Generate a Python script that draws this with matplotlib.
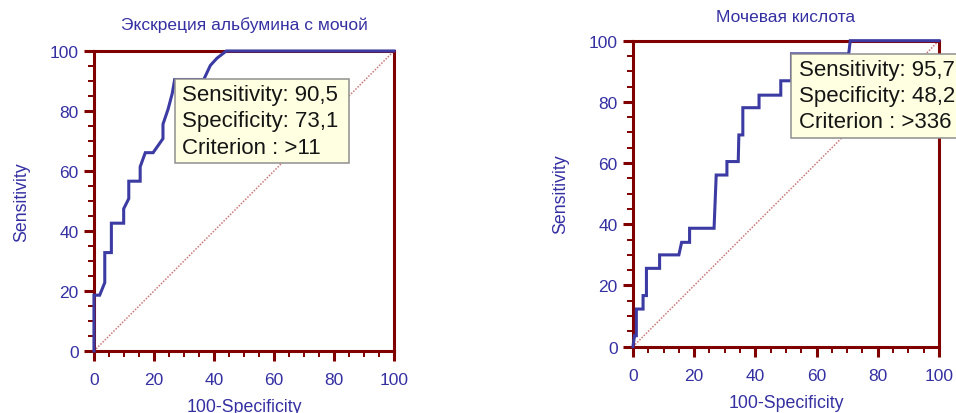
import matplotlib
matplotlib.use("Agg")
import matplotlib.pyplot as plt
from matplotlib.patches import Rectangle
from matplotlib.transforms import ScaledTranslation
from matplotlib.ticker import MultipleLocator

plt.rcParams['font.family'] = ['Liberation Sans', 'DejaVu Sans']

# ROC curve: urinary albumin excretion
fpr_alb = [0, 0, 1.9, 3.6, 3.6, 5.8, 5.8, 9.9, 9.9, 11.6, 11.6, 15.4, 15.4, 17.1,
           19.7, 23.0, 23.0, 24.7, 26.1, 26.9, 36.6, 38.8, 41.0, 44.1, 100]
sens_alb = [0, 18.6, 18.6, 22.8, 32.8, 32.8, 42.6, 42.6, 47.4, 50.8, 56.6, 56.6,
            61.4, 66.1, 66.1, 70.8, 75.6, 80.6, 85.9, 90.5, 90.5, 95.2, 97.6, 100, 100]

# ROC curve: uric acid
fpr_ua = [0, 0.5, 1.1, 1.1, 3.3, 3.3, 4.4, 4.4, 8.7, 8.7, 15.0, 15.9, 18.5, 18.5,
          26.5, 27.2, 30.7, 30.7, 34.4, 34.6, 35.9, 35.9, 41.2, 41.2, 48.3, 48.3,
          51.8, 51.8, 70.5, 71.0, 100]
sens_ua = [0, 3.6, 3.6, 12.3, 12.3, 16.7, 16.7, 25.6, 25.6, 30.0, 30.0, 34.1, 34.1,
           38.7, 38.7, 56.1, 56.1, 60.5, 60.5, 69.2, 69.2, 78.1, 78.1, 82.2, 82.2,
           86.9, 86.9, 95.7, 95.7, 100, 100]

titles = ['Экскреция альбумина с мочой', 'Мочевая кислота']
# optimal cut-off: (sensitivity, specificity, criterion)
cutoffs = [(90.5, 73.1, '>11'), (95.7, 48.2, '>336')]

axis_red = '#800000'
curve_blue = '#3b3ba3'
text_blue = '#3530a2'

fig = plt.figure(figsize=(9.56, 4.14), dpi=100)
ax1 = fig.add_axes([0.0983, 0.1498, 0.3138, 0.7246])
ax2 = fig.add_axes([0.6621, 0.1602, 0.3201, 0.7391])

curves = [(fpr_alb, sens_alb), (fpr_ua, sens_ua)]
title_pads = [16, 14]
box_w, box_h = 1.74, 0.84  # inches

for ax, (x, y), title, (se, sp, crit), tpad in zip([ax1, ax2], curves, titles,
                                                   cutoffs, title_pads):
    ax.plot([0, 100], [0, 100], color='#cc7777', lw=1.1, ls=(0, (1, 1)), zorder=2)
    ax.plot(x, y, color=curve_blue, lw=2.2, zorder=3, clip_on=False,
            solid_joinstyle='miter')
    ax.set_xlim(0, 100)
    ax.set_ylim(0, 100)

    for s in ax.spines.values():
        s.set_color(axis_red)
        s.set_linewidth(2.2)

    ax.xaxis.set_major_locator(MultipleLocator(20))
    ax.yaxis.set_major_locator(MultipleLocator(20))
    ax.xaxis.set_minor_locator(MultipleLocator(5))
    ax.yaxis.set_minor_locator(MultipleLocator(5))
    ax.tick_params(which='major', length=7, width=2.2, color=axis_red,
                   labelsize=12.5, labelcolor=text_blue)
    ax.tick_params(which='minor', length=4, width=1.4, color=axis_red)
    ax.tick_params(axis='x', which='major', pad=8)
    ax.tick_params(axis='y', which='major', pad=4)

    ax.set_title(title, fontsize=12.5, color=text_blue, pad=tpad)
    ax.set_xlabel('100-Specificity', fontsize=12.8, color=text_blue, labelpad=8)
    ax.set_ylabel('Sensitivity', fontsize=12.8, color=text_blue, labelpad=14)

    # info box hangs from the cut-off point on the curve
    anchor = fig.dpi_scale_trans + ScaledTranslation(100 - sp, se, ax.transData)
    ax.add_patch(Rectangle((0, -box_h), box_w, box_h, transform=anchor,
                           fc='#ffffe1', ec='#8f8f8f', lw=1.1, zorder=5,
                           clip_on=False))
    label = 'Sensitivity: %s\nSpecificity: %s\nCriterion : %s' % (
        ('%.1f' % se).replace('.', ','), ('%.1f' % sp).replace('.', ','), crit)
    ax.annotate(label, xy=(100 - sp, se), xytext=(5.5, -3.5),
                textcoords='offset points', ha='left', va='top',
                fontsize=16, color='#151515', linespacing=1.32,
                zorder=6, annotation_clip=False)

fig.savefig('out.png', dpi=100)
